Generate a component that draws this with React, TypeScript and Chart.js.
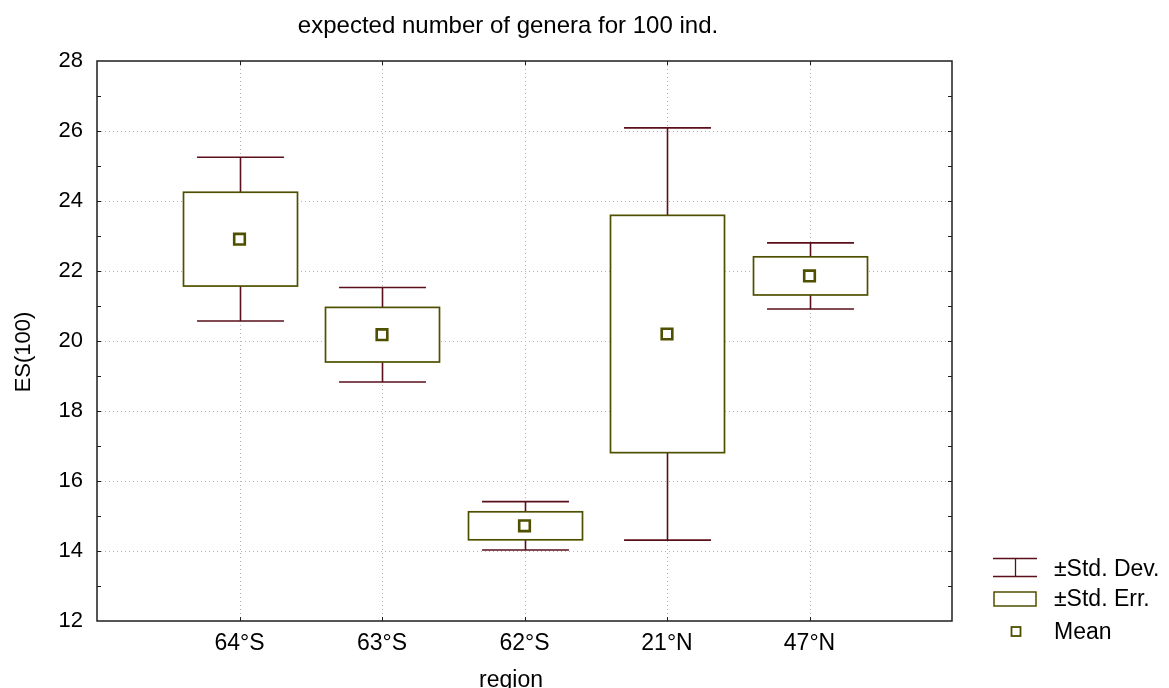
import React, { useEffect, useRef } from 'react';
import { Chart, registerables } from 'chart.js';

Chart.register(...registerables);

// Regions along the x axis and their ES(100) statistics
const regions = ['64°S', '63°S', '62°S', '21°N', '47°N'];
const means = [22.91, 20.18, 14.72, 20.2, 21.86];
const stdErr = [1.34, 0.78, 0.4, 3.39, 0.545];
const stdDev = [2.34, 1.35, 0.69, 5.89, 0.945];

const yTicks = [12, 14, 16, 18, 20, 22, 24, 26, 28];
const yMin = 12;
const yMax = 28;

const titleText = 'expected number of genera for 100 ind.';
const xTitle = 'region';
const yTitle = 'ES(100)';
const legendLabels = ['±Std. Dev.', '±Std. Err.', 'Mean'];

const FONT_FAMILY = '"Liberation Sans", Arial, Helvetica, sans-serif';
const WHISKER = '#5a0f1a';
const BOX = '#4f4f00';
const FRAME = '#1e1e1e';
const GRID = '#b4b4b4';

const W = 1169;
const H = 688;

const boxPlotPlugin = {
  id: 'boxPlot',
  beforeDatasetsDraw(chart: any) {
    const { ctx, chartArea: a, scales } = chart;
    const x = scales.x;
    const y = scales.y;
    ctx.save();

    // dotted grid
    ctx.strokeStyle = GRID;
    ctx.lineWidth = 1;
    ctx.setLineDash([1, 3]);
    ctx.beginPath();
    yTicks.forEach((v) => {
      if (v === yMin || v === yMax) return;
      const py = Math.round(y.getPixelForValue(v)) + 0.5;
      ctx.moveTo(a.left, py);
      ctx.lineTo(a.right, py);
    });
    regions.forEach((_, i) => {
      const px = Math.round(x.getPixelForValue(i + 1)) + 0.5;
      ctx.moveTo(px, a.top);
      ctx.lineTo(px, a.bottom);
    });
    ctx.stroke();
    ctx.setLineDash([]);

    const step = x.getPixelForValue(1) - x.getPixelForValue(0);
    const capHalf = step * 0.305;
    const boxHalf = step * 0.4;

    regions.forEach((_, i) => {
      const cx = Math.round(x.getPixelForValue(i + 1)) + 0.5;
      const hi = y.getPixelForValue(means[i] + stdDev[i]);
      const lo = y.getPixelForValue(means[i] - stdDev[i]);
      ctx.strokeStyle = WHISKER;
      ctx.lineWidth = 1.6;
      ctx.beginPath();
      ctx.moveTo(cx, hi);
      ctx.lineTo(cx, lo);
      ctx.moveTo(cx - capHalf, hi);
      ctx.lineTo(cx + capHalf, hi);
      ctx.moveTo(cx - capHalf, lo);
      ctx.lineTo(cx + capHalf, lo);
      ctx.stroke();

      const top = y.getPixelForValue(means[i] + stdErr[i]);
      const bottom = y.getPixelForValue(means[i] - stdErr[i]);
      ctx.fillStyle = '#ffffff';
      ctx.fillRect(cx - boxHalf, top, boxHalf * 2, bottom - top);
      ctx.strokeStyle = BOX;
      ctx.lineWidth = 1.7;
      ctx.strokeRect(cx - boxHalf, top, boxHalf * 2, bottom - top);
    });
    ctx.restore();
  },
  afterDraw(chart: any) {
    const { ctx, chartArea: a, scales } = chart;
    const x = scales.x;
    const y = scales.y;
    ctx.save();

    // plot frame with inward tick marks
    ctx.strokeStyle = FRAME;
    ctx.lineWidth = 1.5;
    ctx.strokeRect(a.left, a.top, a.right - a.left, a.bottom - a.top);
    ctx.lineWidth = 1;
    ctx.beginPath();
    for (let v = yMin + 1; v < yMax; v++) {
      const py = Math.round(y.getPixelForValue(v)) + 0.5;
      ctx.moveTo(a.left, py);
      ctx.lineTo(a.left + 4, py);
      ctx.moveTo(a.right, py);
      ctx.lineTo(a.right - 4, py);
    }
    regions.forEach((_, i) => {
      const px = Math.round(x.getPixelForValue(i + 1)) + 0.5;
      ctx.moveTo(px, a.top);
      ctx.lineTo(px, a.top + 4);
      ctx.moveTo(px, a.bottom);
      ctx.lineTo(px, a.bottom - 4);
    });
    ctx.stroke();

    // titles
    ctx.fillStyle = '#000000';
    ctx.textAlign = 'center';
    ctx.textBaseline = 'alphabetic';
    ctx.font = `24px ${FONT_FAMILY}`;
    ctx.fillText(titleText, 508, 33);
    ctx.font = `23px ${FONT_FAMILY}`;
    ctx.fillText(xTitle, 511, 687);
    ctx.font = `22px ${FONT_FAMILY}`;
    ctx.save();
    ctx.translate(30, 352);
    ctx.rotate(-Math.PI / 2);
    ctx.fillText(yTitle, 0, 0);
    ctx.restore();

    // legend
    const lx = 1015;
    ctx.strokeStyle = WHISKER;
    ctx.lineWidth = 1.3;
    ctx.beginPath();
    ctx.moveTo(993, 558.5);
    ctx.lineTo(1037, 558.5);
    ctx.moveTo(993, 576.5);
    ctx.lineTo(1037, 576.5);
    ctx.moveTo(lx + 0.5, 558.5);
    ctx.lineTo(lx + 0.5, 576.5);
    ctx.stroke();

    ctx.strokeStyle = BOX;
    ctx.lineWidth = 1.5;
    ctx.strokeRect(994, 592, 42, 14);

    ctx.lineWidth = 1.8;
    ctx.strokeRect(lx - 3.5, 627, 9, 9);

    ctx.font = `23px ${FONT_FAMILY}`;
    ctx.textAlign = 'left';
    ctx.textBaseline = 'middle';
    ctx.fillText(legendLabels[0], 1054, 570);
    ctx.fillText(legendLabels[1], 1054, 600);
    ctx.fillText(legendLabels[2], 1054, 633);

    ctx.restore();
  },
};

export default function App() {
  const canvasRef = useRef<HTMLCanvasElement | null>(null);

  useEffect(() => {
    const canvas = canvasRef.current;
    if (!canvas) return;
    const chart = new Chart(canvas, {
      type: 'scatter',
      data: {
        datasets: [
          {
            label: legendLabels[2],
            data: regions.map((_, i) => ({ x: i + 1, y: means[i] })),
            pointStyle: 'rect',
            pointRadius: 7.5,
            pointHoverRadius: 7.5,
            borderWidth: 2.6,
            borderColor: BOX,
            backgroundColor: '#ffffff',
            showLine: false,
          },
        ],
      },
      options: {
        animation: false,
        responsive: false,
        devicePixelRatio: 1,
        layout: { padding: { left: 0, top: 61, right: W - 952, bottom: 0 } },
        plugins: {
          legend: { display: false },
          tooltip: { enabled: false },
          title: { display: false },
        },
        scales: {
          x: {
            type: 'linear',
            min: 0,
            max: 6,
            grid: { display: false, drawTicks: false },
            border: { display: false },
            afterBuildTicks: (axis: any) => {
              axis.ticks = regions.map((_, i) => ({ value: i + 1 }));
            },
            afterFit: (axis: any) => {
              axis.height = H - 621;
            },
            ticks: {
              autoSkip: false,
              maxRotation: 0,
              padding: 9,
              color: '#000000',
              font: { family: FONT_FAMILY, size: 23 },
              callback: (v: any) => regions[Number(v) - 1] ?? '',
            },
          },
          y: {
            type: 'linear',
            min: yMin,
            max: yMax,
            grid: { display: false, drawTicks: false },
            border: { display: false },
            afterFit: (axis: any) => {
              axis.width = 97;
            },
            ticks: {
              stepSize: 2,
              padding: 14,
              color: '#000000',
              font: { family: FONT_FAMILY, size: 22 },
            },
          },
        },
      },
      plugins: [boxPlotPlugin],
    });
    return () => chart.destroy();
  }, []);

  return (
    <div style={{ position: 'absolute', left: 0, top: 0, width: W, height: H, background: '#ffffff' }}>
      <canvas ref={canvasRef} width={W} height={H} style={{ display: 'block' }} />
    </div>
  );
}
